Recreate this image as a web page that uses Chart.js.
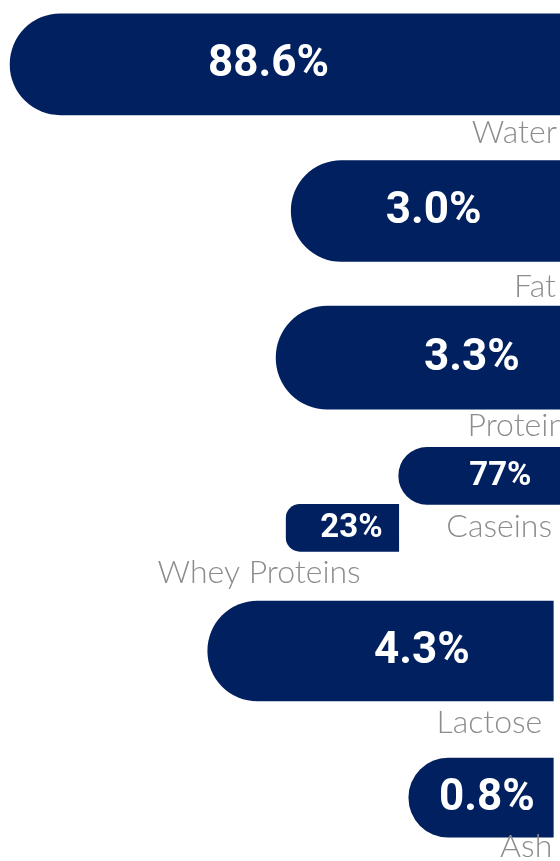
<!DOCTYPE html>
<html>
<head>
<meta charset="utf-8">
<script src="https://cdn.jsdelivr.net/npm/chart.js@4"></script>
<style>
  html, body { margin: 0; padding: 0; background: #fff; overflow: hidden; }
  #wrap { position: absolute; left: 0; top: -9px; width: 560px; height: 880px; }
</style>
</head>
<body>
<div id="wrap"><canvas id="grafico"></canvas></div>
<script>
// rows of the chart (protein gets a second row for its split)
const rows = ['Water', 'Fat', 'Protein', 'Protein split', 'Lactose', 'Ash'];

// milk composition, % of the whole
const components = ['Water', 'Fat', 'Protein', 'Lactose', 'Ash'];
const componentPct = [88.6, 3.0, 3.3, 4.3, 0.8];
const componentRow = [0, 1, 2, 4, 5];
// bar extents as drawn, in % of the panel width measured from the right edge
const componentBars = [[0, 98.2], [0, 48.0], [0, 50.7], [1.2, 62.9], [1.2, 27.0]];

// protein split, % of the protein
const proteinParts = ['Caseins', 'Whey Proteins'];
const proteinPartPct = [77, 23];
const proteinPartBars = [[0, 28.8], [28.8, 48.9]];

const navy = '#002060';
const grey = '#8c8c8c';

// thickness, corner radius, value font size, value position along the bar (0 = round end), name nudges
const look = {
  'Water':         { h: 101, r: 51, size: 44, at: 0.47, nx: 3,  ny: 28 },
  'Fat':           { h: 101, r: 51, size: 44, at: 0.53, nx: 4,  ny: 35 },
  'Protein':       { h: 103, r: 52, size: 44, at: 0.69, nx: -6, ny: 27 },
  'Caseins':       { h: 57,  r: 29, size: 33, at: 0.63, nx: 8,  ny: 33 },
  'Whey Proteins': { h: 47,  r: 14, size: 33, at: 0.58, nx: 38, ny: 32 },
  'Lactose':       { h: 100, r: 50, size: 44, at: 0.62, nx: 11, ny: 32 },
  'Ash':           { h: 79,  r: 40, size: 44, at: 0.54, nx: 1,  ny: 20 }
};

const itens = [];
components.forEach((nome, i) => {
  itens.push({ nome, texto: componentPct[i].toFixed(1) + '%', bar: componentBars[i], row: componentRow[i] });
});
proteinParts.forEach((nome, i) => {
  itens.push({ nome, texto: proteinPartPct[i] + '%', bar: proteinPartBars[i], row: 3 });
});
// keep top-to-bottom order so caseins sits above whey
itens.sort((a, b) => a.row - b.row);

const datasets = itens.map(it => {
  const st = look[it.nome];
  return {
    label: it.nome,
    texto: it.texto,
    row: it.row,
    data: rows.map((_, k) => k === it.row ? it.bar : null),
    backgroundColor: navy,
    borderWidth: 0,
    borderSkipped: false,
    borderRadius: { topLeft: st.r, bottomLeft: st.r, topRight: 0, bottomRight: 0 },
    barThickness: st.h,
    skipNull: true
  };
});

const rotulos = {
  id: 'rotulos',
  afterDatasetsDraw(chart) {
    const ctx = chart.ctx;
    ctx.save();
    chart.data.datasets.forEach((ds, i) => {
      const el = chart.getDatasetMeta(i).data[ds.row];
      if (!el) return;
      const st = look[ds.label];
      const left = Math.min(el.x, el.base);
      const right = Math.max(el.x, el.base);

      ctx.fillStyle = '#fff';
      ctx.font = 'bold ' + st.size + 'px Roboto';
      ctx.textAlign = 'center';
      ctx.textBaseline = 'middle';
      ctx.fillText(ds.texto, left + st.at * (right - left), el.y + 1);

      ctx.fillStyle = grey;
      ctx.font = '300 32px Lato';
      ctx.textAlign = 'right';
      ctx.textBaseline = 'alphabetic';
      ctx.fillText(ds.label, right - st.nx, el.y + el.height / 2 + st.ny);
    });
    ctx.restore();
  }
};

new Chart(document.getElementById('grafico'), {
  type: 'bar',
  data: { labels: rows, datasets },
  options: {
    indexAxis: 'y',
    responsive: true,
    maintainAspectRatio: false,
    animation: false,
    layout: { padding: 0 },
    plugins: {
      legend: { display: false },
      tooltip: { enabled: false }
    },
    scales: {
      x: { display: false, reverse: true, min: 0, max: 100 },
      y: { display: false }
    }
  },
  plugins: [rotulos]
});
</script>
</body>
</html>
